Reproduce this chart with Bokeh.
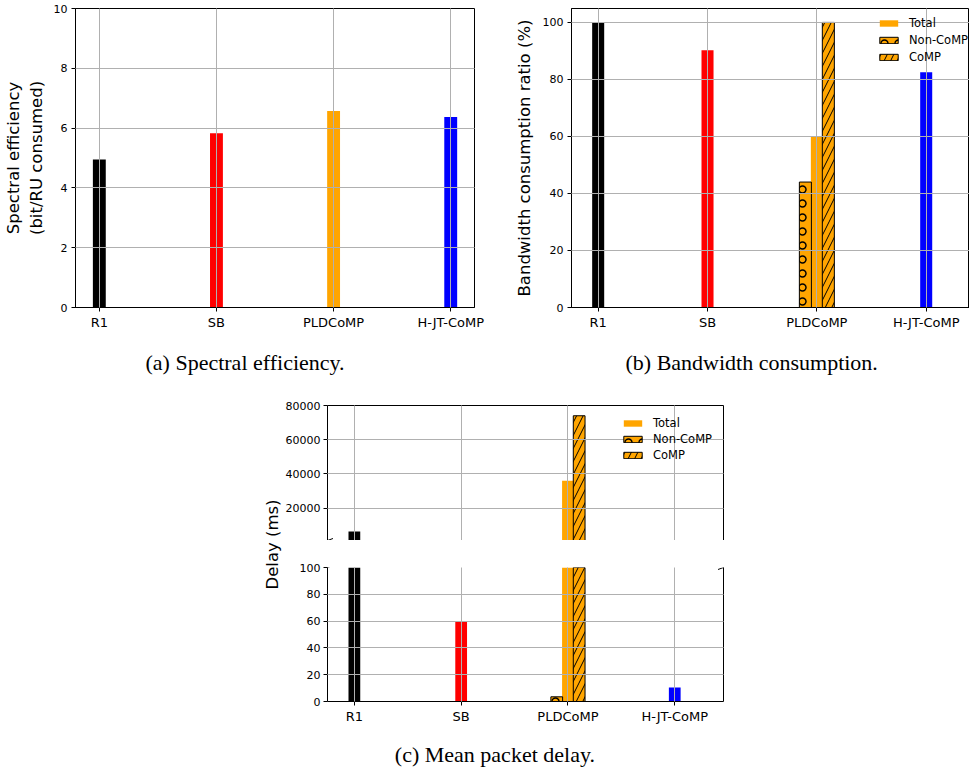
import math
from bokeh.plotting import figure
from bokeh.models import (Range1d, FixedTicker, LinearAxis, Legend, LegendItem,
                          Label, Arrow, Title, Grid)
from bokeh.layouts import row, column
from bokeh.embed import file_html
from bokeh.resources import INLINE

# ---------------- data ----------------
categories = ["R1", "SB", "PLDCoMP", "H-JT-CoMP"]
cat_x = [0, 1, 2, 3]
bar_colors = ["black", "red", "orange", "blue"]

spectral_efficiency = [4.95, 5.83, 6.57, 6.37]

bw_total = [100.0, 90.2, 59.9, 82.5]
bw_noncomp = [44.0]      # PLDCoMP only
bw_comp = [100.0]        # PLDCoMP only

delay_total = [6300, 60, 36000, 10.5]
delay_noncomp = [3.5]
delay_comp = [74000]

split_x = [2]            # category with the Non-CoMP / CoMP split

ticks_a = [0, 2, 4, 6, 8, 10]
ticks_b = [0, 20, 40, 60, 80, 100]
ticks_c_up = [20000, 40000, 60000, 80000]
ticks_c_lo = [0, 20, 40, 60, 80, 100]

BAR_W = 0.11
OFF = 0.105

FONT = "DejaVu Sans"
CAP_FONT = "Liberation Serif"
GRID = "#b0b0b0"


def base(width, height, xr, yr, l, r, t, b):
    p = figure(width=width, height=height, x_range=Range1d(*xr), y_range=Range1d(*yr),
               output_backend="svg", toolbar_location=None, title=None,
               x_axis_location=None, y_axis_location=None,
               min_border_left=l, min_border_right=r, min_border_top=t, min_border_bottom=b)
    p.grid.visible = False
    p.outline_line_color = None
    p.background_fill_color = "white"
    p.border_fill_color = "white"
    return p


def add_grid(p, xticks, yticks):
    gx = Grid(dimension=0, ticker=FixedTicker(ticks=xticks), grid_line_color=GRID,
              grid_line_width=1, level="guide")
    gy = Grid(dimension=1, ticker=FixedTicker(ticks=yticks), grid_line_color=GRID,
              grid_line_width=1, level="guide")
    p.add_layout(gx, "center")
    p.add_layout(gy, "center")


def xaxis(p):
    ax = LinearAxis(ticker=FixedTicker(ticks=cat_x),
                    major_label_overrides={c: n for c, n in zip(cat_x, categories)},
                    major_label_text_font=FONT, major_label_text_font_size="13px",
                    major_label_text_color="black", major_label_standoff=3,
                    major_tick_in=0, major_tick_out=4, major_tick_line_color="black",
                    axis_line_color="black", minor_tick_line_color=None)
    p.add_layout(ax, "below")


def yaxis(p, ticks, label=None, standoff=5, label_standoff=4):
    ax = LinearAxis(ticker=FixedTicker(ticks=ticks),
                    major_label_text_font=FONT, major_label_text_font_size="11px",
                    major_label_text_color="black", major_label_standoff=label_standoff,
                    major_tick_in=0, major_tick_out=4, major_tick_line_color="black",
                    axis_line_color="black", minor_tick_line_color=None)
    if label:
        ax.axis_label = label
        ax.axis_label_text_font = FONT
        ax.axis_label_text_font_size = "16.5px"
        ax.axis_label_text_font_style = "normal"
        ax.axis_label_text_color = "black"
        ax.axis_label_standoff = standoff
    p.add_layout(ax, "left")


def spine(p, side):
    ax = LinearAxis(ticker=FixedTicker(ticks=[]), axis_line_color="black",
                    major_tick_line_color=None, minor_tick_line_color=None)
    p.add_layout(ax, side)


def caption(p, text, offset, standoff):
    t = Title(text=text, align="left", offset=offset, standoff=standoff,
              text_font=CAP_FONT, text_font_size="22px", text_font_style="normal",
              text_color="black")
    p.add_layout(t, "below")


def split_bars(p, noncomp, comp):
    r_nc = p.vbar(x=[c - OFF for c in split_x], top=noncomp, width=BAR_W, fill_color="orange",
                  line_color="black", line_width=1, hatch_pattern="ring",
                  hatch_color="black", hatch_scale=14, hatch_weight=1.4)
    r_c = p.vbar(x=[c + OFF for c in split_x], top=comp, width=BAR_W, fill_color="orange",
                 line_color="black", line_width=1, hatch_pattern="right_diagonal_line",
                 hatch_color="black", hatch_scale=13, hatch_weight=1)
    return r_nc, r_c


def legend(p, r_tot, r_nc, r_c, loc, spacing):
    lg = Legend(items=[LegendItem(label="Total", renderers=[r_tot], index=2),
                       LegendItem(label="Non-CoMP", renderers=[r_nc]),
                       LegendItem(label="CoMP", renderers=[r_c])],
                location=loc, orientation="vertical", border_line_color=None,
                background_fill_alpha=0, padding=0, margin=0, spacing=spacing,
                glyph_width=23, glyph_height=8, label_height=8, label_standoff=9,
                label_text_font=FONT, label_text_font_size="11.5px", label_text_color="black")
    p.add_layout(lg, "center")


def text_fig(width, height, x, y, text, font, size, angle=0.0, baseline="middle"):
    f = figure(width=width, height=height, x_range=Range1d(0, width), y_range=Range1d(0, height),
               output_backend="svg", toolbar_location=None, title=None,
               x_axis_location=None, y_axis_location=None, min_border=0)
    f.grid.visible = False
    f.outline_line_color = None
    f.add_layout(Label(x=x, y=y, text=text, angle=angle, text_align="center",
                       text_baseline=baseline, text_font=font, text_font_size=size,
                       text_color="black"))
    return f


# ---------------- (a) ----------------
pa = base(487, 398, (-0.2034, 3.203), (0, 10), 72, 13, 8, 90)
pa.vbar(x=cat_x, top=spectral_efficiency, width=BAR_W, fill_color=bar_colors, line_color=None)
add_grid(pa, cat_x, [2, 4, 6, 8])
pa.outline_line_color = "black"
xaxis(pa)
yaxis(pa, ticks_a, "Spectral efficiency\n(bit/RU consumed)", standoff=5)
caption(pa, "(a) Spectral efficiency.", 70, 30)

# ---------------- (b) ----------------
pb = base(482, 398, (-0.244, 3.396), (0, 104.88), 84, 0, 6, 91)
rb_tot = pb.vbar(x=cat_x, top=bw_total, width=BAR_W, fill_color=bar_colors, line_color=None)
rb_nc, rb_c = split_bars(pb, bw_noncomp, bw_comp)
add_grid(pb, cat_x, [20, 40, 60, 80, 100])
pb.outline_line_color = "black"
xaxis(pb)
yaxis(pb, ticks_b, "Bandwidth consumption ratio (%)", standoff=6)
legend(pb, rb_tot, rb_nc, rb_c, (306, 243), 3)
caption(pb, "(b) Bandwidth consumption.", 54, 31)

# ---------------- (c) ----------------
XR_C = (-0.2516, 3.4565)
Y_UP = (1000, 80000)
GAP_PX = 27          # vertical gap between the two panels
pu = base(453, 142, XR_C, Y_UP, 43, 12, 7, 0)
ru_tot = pu.vbar(x=cat_x, top=delay_total, width=BAR_W, fill_color=bar_colors, line_color=None)
ru_nc, ru_c = split_bars(pu, delay_noncomp, delay_comp)
add_grid(pu, cat_x, [20000, 40000, 60000])
yaxis(pu, ticks_c_up, label_standoff=3)
spine(pu, "right")
spine(pu, "above")
legend(pu, ru_tot, ru_nc, ru_c, (294, 78), 2)

plo = base(453, 187, XR_C, (0, 100), 43, 12, GAP_PX, 26)
plo.vbar(x=cat_x, top=delay_total, width=BAR_W, fill_color=bar_colors, line_color=None)
split_bars(plo, delay_noncomp, delay_comp)
add_grid(plo, cat_x, [20, 40, 60, 80, 100])
yaxis(plo, ticks_c_lo, label_standoff=3)
spine(plo, "right")
xaxis(plo)

# axis-break marks (upper-panel marks are drawn in both canvases so that neither half is lost)
dx = 5.5 / 107.33
lo_per_px = 100 / 134
up_edge_in_lo = 100 + GAP_PX * lo_per_px
for xe in XR_C:
    dyu = 2 * (Y_UP[1] - Y_UP[0]) / 135
    pu.add_layout(Arrow(end=None, x_start=xe - dx, y_start=Y_UP[0] - dyu, x_end=xe + dx,
                        y_end=Y_UP[0] + dyu, line_color="black", line_width=1))
    dyl = 2 * lo_per_px
    plo.add_layout(Arrow(end=None, x_start=xe - dx, y_start=up_edge_in_lo - dyl, x_end=xe + dx,
                         y_end=up_edge_in_lo + dyl, line_color="black", line_width=1))
    plo.add_layout(Arrow(end=None, x_start=xe - dx, y_start=100 - dyl, x_end=xe + dx,
                         y_end=100 + dyl, line_color="black", line_width=1))

# caption (c) and shared y label
pcap = text_fig(453, 42, 191.5, 15, "(c) Mean packet delay.", CAP_FONT, "22px")
pl = text_fig(282, 371, 272, 225, "Delay (ms)", FONT, "16.5px", angle=math.pi / 2,
              baseline="alphabetic")

page = column(row(pa, pb), row(pl, column(pu, plo, pcap)))

open("out.html", "w").write(file_html(page, INLINE))
